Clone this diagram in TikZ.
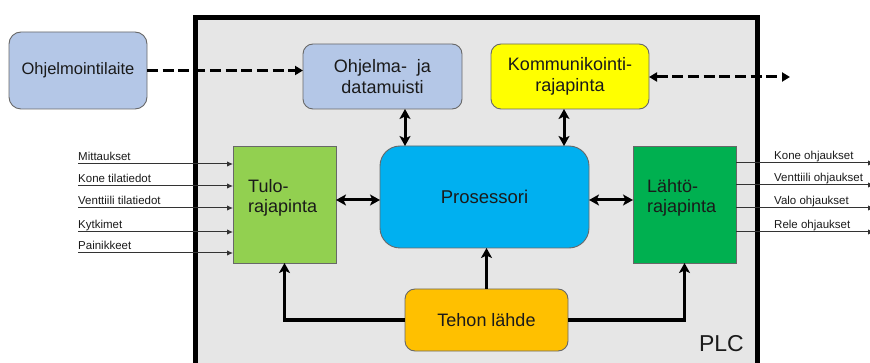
\documentclass[tikz,border=0pt]{standalone}
\usepackage{fontspec}
\setmainfont{Liberation Sans}
\usetikzlibrary{arrows.meta,calc}

\definecolor{plcgray}{HTML}{E6E6E6}
\definecolor{edge}{HTML}{686868}
\definecolor{memblue}{HTML}{B4C7E7}
\definecolor{commyellow}{HTML}{FFFF00}
\definecolor{cpublue}{HTML}{00B0F0}
\definecolor{ingreen}{HTML}{92D050}
\definecolor{outgreen}{HTML}{00B050}
\definecolor{psuorange}{HTML}{FFC000}
\definecolor{txt}{HTML}{1A1A1A}
\definecolor{sig}{HTML}{333333}

\tikzset{
  unit/.style={draw=edge, line width=0.9pt, inner sep=0pt, outer sep=0pt,
    text=txt, align=center, font=\fontsize{18}{21.5}\selectfont},
  rbox/.style={unit, rounded corners=10pt},
  ifbox/.style={unit, minimum width=103pt, minimum height=117pt},
  iftext/.style={inner sep=0pt, text=txt, align=left, anchor=north west,
    font=\fontsize{18}{20}\selectfont},
  bus/.style={line width=3pt, draw=black},
  dbl/.style={bus, {Stealth[length=10pt,width=11pt,inset=2.5pt]}-{Stealth[length=10pt,width=11pt,inset=2.5pt]}},
  feed/.style={bus, -{Stealth[length=10pt,width=11pt,inset=2.5pt]}},
  comlink/.style={line width=3pt, dash pattern=on 11pt off 4.7pt},
  sigline/.style={draw=sig, line width=1pt, -{Latex[length=6pt,width=5.5pt]}},
  siglabel/.style={inner sep=0pt, text=txt, font=\fontsize{11.5}{13}\selectfont},
}

\begin{document}
\begin{tikzpicture}[x=1pt,y=-1pt]
\useasboundingbox (0,0) rectangle (870,363);

% PLC enclosure
\draw[fill=plcgray, line width=4.5pt] (195.5,17.5) rectangle (757.5,385);
\node[inner sep=0pt, text=txt, font=\fontsize{23}{23}\selectfont, anchor=base east] (plc) at (744,351) {PLC};

% programming device, outside the PLC
\node[rbox, fill=memblue, rounded corners=12pt, minimum width=138pt, minimum height=77pt,
      font=\fontsize{16.5}{20}\selectfont] (prog) at (78,70.5) {Ohjelmointilaite};

% PLC units
\node[rbox, fill=memblue, minimum width=159pt, minimum height=65pt] (mem) at (382.5,76.5) {Ohjelma-\ \ ja\\datamuisti};
\node[rbox, fill=commyellow, minimum width=158pt, minimum height=65pt] (comm) at (570,76.5) {Kommunikointi-\\rajapinta};
\node[rbox, rounded corners=20pt, fill=cpublue, minimum width=209pt, minimum height=102pt,
      font=\fontsize{18.5}{22}\selectfont] (cpu) at (484.5,197) {Prosessori};
\node[ifbox, fill=ingreen] (in) at (284.5,204.5) {};
\node[iftext] (intext) at (248,179) {Tulo-\\rajapinta};
\node[ifbox, fill=outgreen] (out) at (684.5,204.5) {};
\node[iftext] (outtext) at (647,179) {Lähtö-\\rajapinta};
\node[rbox, fill=psuorange, minimum width=163pt, minimum height=62pt] (psu) at (486.5,320) {Tehon lähde};

% programming and communication links
\draw[comlink, -{Triangle[length=8pt,width=9pt]}] (prog.east) -- (prog.east -| mem.west);
\coordinate (net) at (790,77);
\draw[comlink, {Triangle[length=8pt,width=9pt]}-{Triangle[length=8pt,width=9pt]}] (comm.east |- net) -- (net);

% internal buses
\coordinate (mx) at (405,0);
\coordinate (cx) at (564,0);
\coordinate (hy) at (0,200);
\draw[dbl] (mem.south -| mx) -- (cpu.north -| mx);
\draw[dbl] (comm.south -| cx) -- (cpu.north -| cx);
\draw[dbl] (in.east |- hy) -- (cpu.west |- hy);
\draw[dbl] (cpu.east |- hy) -- (out.west |- hy);

% power distribution
\draw[feed] (psu.north) -- (psu.north |- cpu.south);
\draw[feed] (psu.west) -| (in.south);
\draw[feed] (psu.east) -| (out.south);

% input signals
\foreach \n/\y/\t in {a/164/Mittaukset, b/186/Kone tilatiedot, c/208/Venttiili tilatiedot, d/232/Kytkimet, e/253/Painikkeet}{
  \coordinate (i\n) at (78,\y);
  \node[siglabel, anchor=base west] (il\n) at ($(i\n)+(0,-3)$) {\t};
  \draw[sigline] (i\n) -- (i\n -| in.west);
}

% output signals
\foreach \n/\y/\t in {a/163/Kone ohjaukset, b/185/Venttiili ohjaukset, c/208/Valo ohjaukset, d/232/Rele ohjaukset}{
  \coordinate (o\n) at (874,\y);
  \node[siglabel, anchor=base west] (ol\n) at (774,\y-3) {\t};
  \draw[sigline] (o\n -| out.east) -- (o\n);
}
\end{tikzpicture}
\end{document}
